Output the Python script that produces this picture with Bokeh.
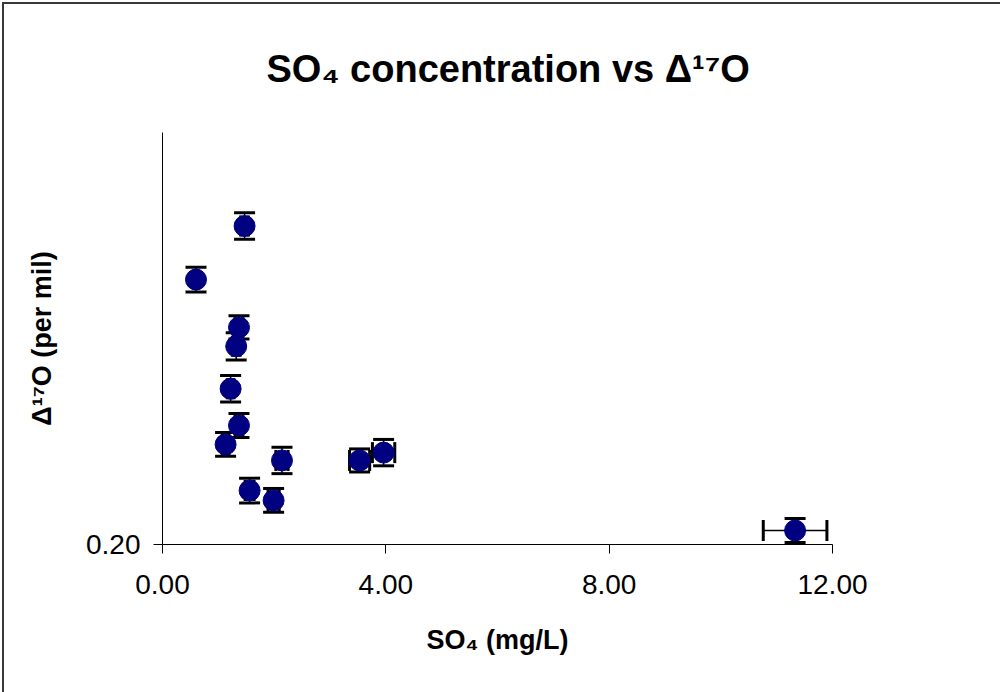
from bokeh.plotting import figure
from bokeh.models import ColumnDataSource, Whisker, TeeHead, FixedTicker
from bokeh.embed import file_html
from bokeh.resources import INLINE

# ---- data ----
so4 = [1.47, 0.60, 1.37, 1.32, 1.22, 1.37, 1.13, 2.14, 1.56, 1.99, 3.53, 3.96, 11.33]
d17o = [0.973, 0.843, 0.727, 0.681, 0.578, 0.489, 0.443, 0.404, 0.331, 0.307, 0.404, 0.423, 0.234]
so4_err = [0.07, 0.03, 0.07, 0.07, 0.06, 0.07, 0.06, 0.11, 0.08, 0.10, 0.18, 0.20, 0.57]
d17o_err = [0.032, 0.030, 0.028, 0.033, 0.032, 0.029, 0.029, 0.032, 0.030, 0.029, 0.028, 0.032, 0.029]

x_ticks = [0, 4, 8, 12]
x_tick_labels = ["0.00", "4.00", "8.00", "12.00"]
y_ticks = [0.20]
y_tick_labels = ["0.20"]

title_text = "SO\u2084 concentration vs \u0394\u00b9\u2077O"
x_title = "SO\u2084 (mg/L)"
y_title = "\u0394\u00b9\u2077O (per mil)"

x_range = (0, 12)
y_range = (0.20, 1.20)

# ---- layout constants (page pixels) ----
FIG_W, FIG_H = 1000, 692
FRAME_L, FRAME_R, FRAME_T, FRAME_B = 162, 832, 132, 544
FONT = "Liberation Sans"
EDGE = "#383838"

p = figure(width=FIG_W, height=FIG_H,
           x_range=x_range, y_range=y_range,
           output_backend="svg", toolbar_location=None,
           min_border_left=FRAME_L,
           min_border_right=FIG_W - FRAME_R,
           min_border_top=FRAME_T,
           min_border_bottom=FIG_H - FRAME_B)
# chart-area edge (top and left), shown through a transparent border fill
p.styles = {"background": (f"linear-gradient({EDGE},{EDGE}) 2px 2px / 100% 2px no-repeat, "
                           f"linear-gradient({EDGE},{EDGE}) 2px 2px / 2px 100% no-repeat, white"),
            "vertical-align": "top"}
p.border_fill_color = None
p.background_fill_color = "white"
p.outline_line_color = None
p.xgrid.visible = False
p.ygrid.visible = False

p.title.text = title_text
p.title.align = "left"
p.title.offset = 104
p.title.text_font = FONT
p.title.text_font_size = "38px"
p.title.text_font_style = "bold"
p.title.text_color = "black"
p.title.standoff = 85

for ax in (p.xaxis, p.yaxis):
    ax.axis_line_color = "black"
    ax.axis_line_width = 1
    ax.major_tick_line_color = "black"
    ax.major_tick_out = 9
    ax.major_tick_in = 0
    ax.minor_tick_out = 0
    ax.minor_tick_in = 0
    ax.major_label_text_font = FONT
    ax.major_label_text_font_size = "28px"
    ax.major_label_text_color = "black"
    ax.axis_label_text_font = FONT
    ax.axis_label_text_font_size = "27px"
    ax.axis_label_text_font_style = "bold"
    ax.axis_label_text_color = "black"

p.xaxis.ticker = FixedTicker(ticks=x_ticks)
p.xaxis.major_label_overrides = {t: l for t, l in zip(x_ticks, x_tick_labels)}
p.xaxis.major_label_standoff = 21
p.xaxis.axis_label = x_title
p.xaxis.axis_label_standoff = 28

p.yaxis.ticker = FixedTicker(ticks=y_ticks)
p.yaxis.major_label_overrides = {t: l for t, l in zip(y_ticks, y_tick_labels)}
p.yaxis.major_label_standoff = 13
p.yaxis.axis_label = y_title
p.yaxis.axis_label_standoff = 26

src = ColumnDataSource(dict(
    x=so4, y=d17o,
    ylo=[v - e for v, e in zip(d17o, d17o_err)],
    yhi=[v + e for v, e in zip(d17o, d17o_err)],
    xlo=[v - e for v, e in zip(so4, so4_err)],
    xhi=[v + e for v, e in zip(so4, so4_err)],
))

def head():
    return TeeHead(size=21, line_width=3, line_color="black")

wy = Whisker(source=src, base="x", lower="ylo", upper="yhi", dimension="height",
             line_color="black", line_width=1.5, upper_head=head(), lower_head=head(),
             level="underlay")
wx = Whisker(source=src, base="y", lower="xlo", upper="xhi", dimension="width",
             line_color="black", line_width=1.5, upper_head=head(), lower_head=head(),
             level="underlay")
p.add_layout(wy)
p.add_layout(wx)

p.scatter(x="x", y="y", source=src, size=21, marker="circle",
          fill_color="#000080", line_color="#000080")

open("out.html", "w").write(file_html(p, INLINE))
